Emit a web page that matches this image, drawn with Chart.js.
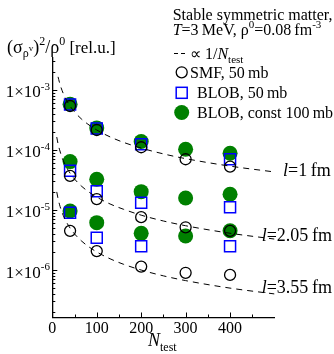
<!DOCTYPE html>
<html>
<head>
<meta charset="utf-8">
<script src="https://cdn.jsdelivr.net/npm/chart.js@4/dist/chart.umd.min.js"></script>
<style>
  html, body { margin: 0; padding: 0; background: #fff; }
  #wrap { width: 334px; height: 354px; position: relative; }
</style>
</head>
<body>
<div id="wrap"><canvas id="chart"></canvas></div>
<script>
// N_test positions of the markers
var nTest = [40, 100, 200, 300, 400];
var nBlob50 = [40, 100, 200, 400];

// SMF, 50mb (open circles), groups l=1, 2.05, 3.55 fm
var smfL1 = [5.4e-4, 2.15e-4, 1.11e-4, 7.0e-5, 5.27e-5];
var smfL2 = [3.7e-5, 1.52e-5, 7.6e-6, 5.15e-6, 4.5e-6];
var smfL3 = [4.5e-6, 2.07e-6, 1.14e-6, 9.0e-7, 8.3e-7];

// BLOB, 50mb (open squares)
var blobL1 = [5.7e-4, 2.27e-4, 1.24e-4, 7.0e-5];
var blobL2 = [4.5e-5, 2.05e-5, 1.32e-5, 1.11e-5];
var blobL3 = [9.0e-6, 3.46e-6, 2.5e-6, 2.5e-6];

// BLOB, const 100mb (filled green)
var constL1 = [5.78e-4, 2.33e-4, 1.38e-4, 1.03e-4, 8.8e-5];
var constL2 = [6.4e-5, 3.25e-5, 2.02e-5, 1.58e-5, 1.83e-5];
var constL3 = [9.6e-6, 6.15e-6, 4.08e-6, 3.69e-6, 4.5e-6];

// dashed ~1/N_test curves
var fitN  = [10, 13, 16, 20, 25, 30, 40, 50, 65, 80, 100, 130, 160, 200, 250, 300, 400, 500];
var fitL1 = [null, 1.65e-3, 1.34e-3, 1.075e-3, 8.6e-4, 7.17e-4, 5.38e-4, 4.3e-4, 3.31e-4, 2.69e-4, 2.15e-4, 1.65e-4, 1.34e-4, 1.075e-4, 8.6e-5, 7.17e-5, 5.38e-5, 4.3e-5];
var fitL2 = [1.64e-4, 1.26e-4, 1.03e-4, 8.2e-5, 6.56e-5, 5.47e-5, 4.1e-5, 3.28e-5, 2.52e-5, 2.05e-5, 1.64e-5, 1.26e-5, 1.03e-5, 8.2e-6, 6.56e-6, 5.47e-6, 4.1e-6, 3.28e-6];
var fitL3 = [2.0e-5, 1.54e-5, 1.25e-5, 1.0e-5, 8.0e-6, 6.67e-6, 5.0e-6, 4.0e-6, 3.08e-6, 2.5e-6, 2.0e-6, 1.54e-6, 1.25e-6, 1.0e-6, 8.0e-7, 6.67e-7, 5.0e-7, 4.0e-7];

var xTickLabels = ['0', '100', '200', '300', '400'];
var yTickExps = [-3, -4, -5, -6];
var lineLabels = ['1', '2.05', '3.55'];

var FONT = '"Liberation Serif", "Times New Roman", serif';
var GREEN = '#008000';
var BLUE = '#0000ff';

function pts(xs, ys) {
    return xs.map(function(v, i) { return {x: v, y: ys[i]}; });
}

function fitSet(ys) {
    return {
        data: pts(fitN, ys), showLine: true, borderColor: '#000', borderWidth: 1,
        borderDash: [6, 5], pointRadius: 0, cubicInterpolationMode: 'monotone', order: 0
    };
}
function smfSet(ys) {
    return {
        data: pts(nTest, ys), pointStyle: 'circle', pointRadius: 5.5,
        backgroundColor: 'rgba(0,0,0,0)', borderColor: '#000', borderWidth: 1.3, order: 1
    };
}
function blobSet(ys) {
    return {
        data: pts(nBlob50, ys), pointStyle: 'rect', pointRadius: 7.8,
        backgroundColor: 'rgba(0,0,0,0)', borderColor: BLUE, borderWidth: 1.5, order: 2
    };
}
function constSet(ys) {
    return {
        data: pts(nTest, ys), pointStyle: 'circle', pointRadius: 7.5,
        backgroundColor: GREEN, borderColor: GREEN, borderWidth: 0, order: 3
    };
}

// draw a row of text pieces: [text, size, dy, italic]
function runs(ctx, x, y, parts) {
    parts.forEach(function(p) {
        ctx.font = (p[3] ? 'italic ' : '') + p[1] + 'px ' + FONT;
        ctx.fillText(p[0], x, y + p[2]);
        x += ctx.measureText(p[0]).width;
    });
    return x;
}
function runsWidth(ctx, parts) {
    var w = 0;
    parts.forEach(function(p) {
        ctx.font = (p[3] ? 'italic ' : '') + p[1] + 'px ' + FONT;
        w += ctx.measureText(p[0]).width;
    });
    return w;
}
function seg(ctx, x1, y1, x2, y2) {
    ctx.beginPath(); ctx.moveTo(x1, y1); ctx.lineTo(x2, y2); ctx.stroke();
}

var decor = {
    id: 'decor',
    afterDraw: function(chart) {
        var ctx = chart.ctx, xs = chart.scales.x, ys = chart.scales.y, a = chart.chartArea;
        ctx.save();
        ctx.fillStyle = '#000';
        ctx.strokeStyle = '#000';
        ctx.lineWidth = 1;
        ctx.textBaseline = 'alphabetic';

        // x ticks (inward) and labels
        for (var v = 0; v <= 450; v += 50) {
            var px = Math.round(xs.getPixelForValue(v)) + 0.5;
            seg(ctx, px, a.bottom, px, a.bottom - (v % 100 === 0 ? 5 : 3));
        }
        ctx.font = '16px ' + FONT;
        ctx.textAlign = 'center';
        xTickLabels.forEach(function(t) {
            ctx.fillText(t, xs.getPixelForValue(+t), 333);
        });
        ctx.textAlign = 'left';

        // y ticks (inward)
        for (var e = -7; e <= -3; e++) {
            for (var m = 1; m <= 9; m++) {
                var val = m * Math.pow(10, e);
                if (val < ys.min || val > ys.max) continue;
                var py = Math.round(ys.getPixelForValue(val)) + 0.5;
                seg(ctx, a.left, py, a.left + (m === 1 ? 5 : 3), py);
            }
        }
        yTickExps.forEach(function(ex) {
            var py = ys.getPixelForValue(Math.pow(10, ex));
            var parts = [['1\u00d710', 17, 0], [String(ex), 11, -7.5]];
            var w = runsWidth(ctx, parts);
            runs(ctx, 50 - w, py + 7.5, parts);
        });

        // axis titles
        runs(ctx, 148, 346, [['N', 18, 0, true], ['test', 12, 5]]);
        runs(ctx, 7, 53, [['(\u03c3', 18, 0], ['\u03c1', 12, 4], ['v', 9, -2], [')', 18, 0],
            ['2', 12, -8], ['/\u03c1', 18, 0], ['0', 12, -8], [' [rel.u.]', 17, 0]]);

        // header
        runs(ctx, 172.7, 20, [['Stable symmetric matter,', 16, 0]]);
        runs(ctx, 172.7, 35, [['T', 16, 0, true], ['=3\u2009MeV, \u03c1', 16, 0], ['0', 11, -7],
            ['=0.08\u2009fm', 16, 0], ['-3', 11, -7]]);

        // legend
        ctx.setLineDash([4, 3]);
        seg(ctx, 174, 53.5, 187, 53.5);
        ctx.setLineDash([]);
        runs(ctx, 190, 59, [['\u221d 1/', 16, 0], ['N', 16, 0, true], ['test', 11, 4]]);

        ctx.lineWidth = 1.3;
        ctx.beginPath(); ctx.arc(181.7, 72.3, 5.5, 0, Math.PI * 2); ctx.stroke();
        runs(ctx, 190, 78, [['SMF, 50\u2009mb', 16, 0]]);

        ctx.strokeStyle = BLUE; ctx.lineWidth = 1.5;
        ctx.strokeRect(176.2, 87.3, 11, 11);
        runs(ctx, 197, 97.5, [['BLOB, 50\u2009mb', 16, 0]]);

        ctx.fillStyle = GREEN;
        ctx.beginPath(); ctx.arc(181.7, 112.5, 7.5, 0, Math.PI * 2); ctx.fill();
        ctx.fillStyle = '#000';
        runs(ctx, 197, 117.5, [['BLOB, const 100\u2009mb', 16, 0]]);

        // curve labels
        var lx = [283, 261.7, 261.7], ly = [176, 241, 293];
        lineLabels.forEach(function(t, i) {
            runs(ctx, lx[i], ly[i], [['l', 18, 0, true], ['=' + t + '\u2009fm', 18, 0]]);
        });
        ctx.restore();
    }
};

var ctx = document.getElementById('chart').getContext('2d');
var chart = new Chart(ctx, {
    type: 'scatter',
    data: {
        datasets: [
            fitSet(fitL1), fitSet(fitL2), fitSet(fitL3),
            smfSet(smfL1), smfSet(smfL2), smfSet(smfL3),
            blobSet(blobL1), blobSet(blobL2), blobSet(blobL3),
            constSet(constL1), constSet(constL2), constSet(constL3)
        ]
    },
    options: {
        responsive: true,
        maintainAspectRatio: false,
        animation: false,
        events: [],
        layout: { padding: { left: 0, top: 58, right: 59.5, bottom: 0 } },
        plugins: { legend: { display: false }, tooltip: { enabled: false } },
        scales: {
            x: {
                type: 'linear', min: 0, max: 500,
                grid: { display: false, drawTicks: false },
                border: { display: true, color: '#000', width: 1.3 },
                ticks: { display: false },
                afterFit: function(s) { s.height = 36.5; }
            },
            y: {
                type: 'logarithmic', min: 1.62e-7, max: 3.4e-3,
                grid: { display: false, drawTicks: false },
                border: { display: true, color: '#000', width: 1.3 },
                ticks: { display: false },
                afterFit: function(s) { s.width = 52.3; }
            }
        }
    },
    plugins: [decor]
});
</script>
</body>
</html>
